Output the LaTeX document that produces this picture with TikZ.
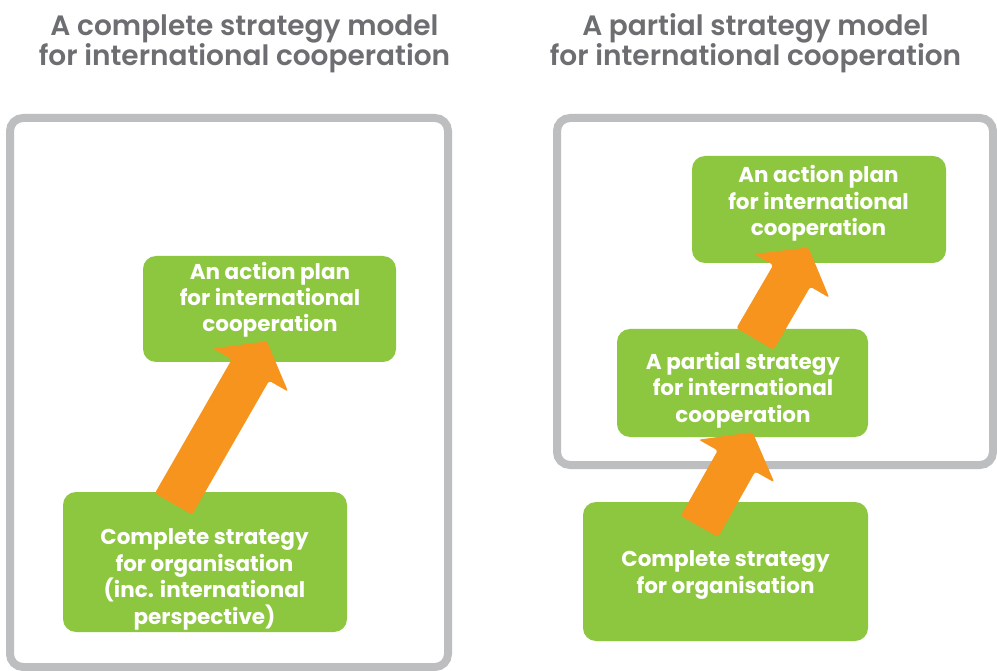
\documentclass[tikz,border=0pt]{standalone}
\usepackage{fontspec}
\setmainfont{Poppins}
\newfontfamily\titlefont{Poppins SemiBold}
\usetikzlibrary{calc}
\definecolor{boxgreen}{HTML}{8DC63F}
\definecolor{arrorange}{HTML}{F7941D}
\definecolor{framegray}{HTML}{BCBEC0}
\definecolor{titlegray}{HTML}{6D6E71}
\newcommand\fatarrow[2]{%
  \coordinate (hb) at ($(#2)!33pt!(#1)$);
  \fill[arrorange, rounded corners=2.5pt]
    ($(#1)!21.5pt!90:(#2)$) -- ($(hb)!21.5pt!90:(#2)$) -- ($(hb)!43.5pt!90:(#2)$)
    -- (#2) -- ($(hb)!43.5pt!-90:(#2)$) -- ($(hb)!21.5pt!-90:(#2)$)
    -- ($(#1)!21.5pt!-90:(#2)$) -- cycle;
}
\begin{document}
\begin{tikzpicture}[x=1pt,y=-1pt,
  frame/.style={draw=framegray, line width=8pt, rounded corners=13pt},
  gbox/.style={fill=boxgreen, rounded corners=13pt, inner sep=0pt, draw=none},
  btext/.style={font=\bfseries\fontsize{21.5pt}{26.5pt}\selectfont, text=white, align=center, inner sep=0pt},
  ttext/.style={font=\titlefont\fontsize{28pt}{29.5pt}\selectfont, text=titlegray, align=center, inner sep=0pt}]
\useasboundingbox[fill=white] (0,0) rectangle (997,671);

% titles
\node[ttext, anchor=base] (t1) at (244.5,66) {A complete strategy model\\for international cooperation};
\node[ttext, anchor=base] (t2) at (755.5,66) {A partial strategy model\\for international cooperation};

% frames
\draw[frame] (10,118) rectangle (448,667);
\draw[frame] (557,118) rectangle (993,465);

% left boxes
\node[gbox, minimum width=253pt, minimum height=106pt] (la) at (269.5,309) {};
\node[gbox, minimum width=284pt, minimum height=140pt] (lc) at (205,562) {};
\node[btext, anchor=base] (latx) at (270,332) {An action plan\\for international\\cooperation};
\node[btext, anchor=base] (lctx) at (204.5,624) {Complete strategy\\for organisation\\(inc. international\\perspective)};

% right boxes
\node[gbox, minimum width=254pt, minimum height=107pt] (ra) at (819,209.5) {};
\node[gbox, minimum width=251pt, minimum height=108pt] (rp) at (742.5,383) {};
\node[gbox, minimum width=285pt, minimum height=139pt] (rc) at (725.5,571.5) {};
\node[btext, anchor=base] (ratx) at (818.5,236) {An action plan\\for international\\cooperation};
\node[btext, anchor=base] (rptx) at (743,422) {A partial strategy\\for international\\cooperation};
\node[btext, anchor=base] (rctx) at (725.5,593) {Complete strategy\\for organisation};

% arrows
\coordinate (a1s) at (173.5,504); \coordinate (a1t) at (266.9,341.4);
\coordinate (a2s) at (755,339);   \coordinate (a2t) at (808.4,247.4);
\coordinate (a3s) at (699.5,526.5); \coordinate (a3t) at (752.7,432.3);
\fatarrow{a1s}{a1t}
\fatarrow{a2s}{a2t}
\fatarrow{a3s}{a3t}
\end{tikzpicture}
\end{document}
